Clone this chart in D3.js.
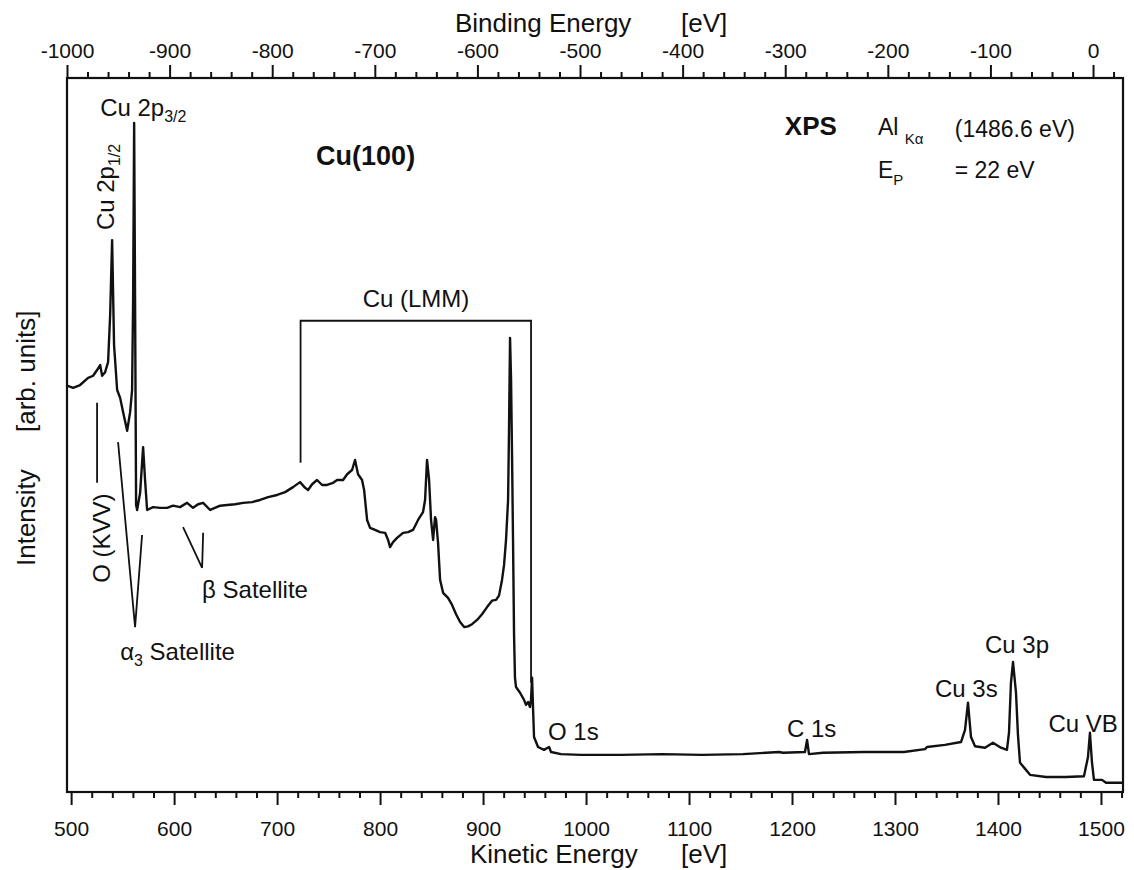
<!DOCTYPE html>
<html>
<head>
<meta charset="utf-8">
<script src="https://cdn.jsdelivr.net/npm/d3@7"></script>
<style>
  body { margin: 0; background: #fff; }
  text { font-family: "Liberation Sans", Arial, Helvetica, sans-serif; fill: #111; }
</style>
</head>
<body>
<div class="chart"></div>
<script>
// XPS survey spectrum, Cu(100)
var kineticEnergy = [
  496.1, 501.9, 508.7, 516.5, 521.4, 525.2, 528.2, 530.1, 533.0, 535.9,
  537.9, 539.8, 541.7, 544.7, 547.6, 550.5, 554.4, 557.3, 559.2, 560.2,
  561.2, 562.1, 563.1, 564.1, 567.0, 569.9, 571.8, 573.8, 579.6, 586.4,
  593.2, 599.0, 605.8, 612.6, 618.4, 623.3, 628.2, 635.0, 644.7, 651.5,
  659.2, 667.0, 675.7, 683.5, 691.3, 700.0, 707.8, 715.5, 722.3, 727.2,
  730.1, 734.0, 738.8, 743.7, 748.5, 754.4, 758.3, 764.1, 768.0, 772.8,
  775.7, 778.6, 782.5, 784.5, 787.4, 790.3, 795.1, 800.0, 804.9, 807.8,
  809.7, 812.6, 816.5, 822.3, 827.2, 832.0, 836.9, 841.7, 843.7, 845.6,
  847.6, 849.5, 851.5, 853.4, 854.4, 856.3, 858.3, 861.2, 866.0, 869.9,
  873.8, 877.7, 881.6, 885.4, 889.3, 894.2, 899.0, 903.9, 908.7, 912.6,
  915.5, 918.4, 920.4, 922.3, 924.3, 925.2, 926.2, 927.2, 928.2, 929.1,
  930.1, 931.0, 932.0, 935.9, 939.8, 941.7, 943.7, 945.6, 946.6, 947.6,
  948.5, 949.5, 953.4, 959.2, 964.1, 966.0, 975.7, 995.1, 1034.0, 1073.8,
  1112.6, 1152.4, 1187.4, 1191.3, 1212.6, 1214.6, 1216.5, 1230.1, 1269.9, 1308.7,
  1329.1, 1331.1, 1348.5, 1364.1, 1368.0, 1370.9, 1373.8, 1377.7, 1387.4, 1395.1,
  1402.9, 1408.7, 1410.7, 1412.6, 1414.6, 1417.5, 1419.4, 1421.4, 1427.2, 1431.1,
  1446.6, 1466.0, 1483.5, 1487.4, 1489.3, 1491.3, 1493.2, 1501.0, 1504.9, 1517.5,
  1521.4
];
var intensity = [
  56.9, 56.6, 57.0, 58.0, 58.3, 59.1, 59.8, 58.3, 58.8, 60.2,
  66.8, 77.3, 62.6, 56.3, 55.2, 53.2, 50.6, 53.2, 56.3, 68.9,
  93.7, 68.9, 40.2, 39.5, 41.9, 48.3, 43.7, 39.5, 39.9, 39.8,
  39.8, 40.1, 39.9, 40.5, 39.8, 40.3, 40.5, 39.5, 40.1, 40.2,
  40.3, 40.5, 40.6, 40.9, 41.3, 41.6, 42.0, 42.7, 43.4, 42.6,
  42.3, 43.1, 43.7, 43.0, 43.0, 43.3, 43.7, 43.7, 44.5, 45.1,
  46.5, 44.5, 43.7, 42.3, 38.1, 37.0, 36.7, 36.4, 36.3, 35.3,
  34.3, 35.0, 35.6, 36.3, 36.4, 36.7, 38.1, 39.2, 40.9, 46.5,
  43.7, 38.1, 35.3, 38.5, 38.1, 34.9, 29.7, 27.9, 27.2, 26.2,
  24.9, 23.8, 23.1, 23.2, 23.5, 24.1, 24.9, 25.9, 26.8, 26.9,
  27.5, 29.7, 31.8, 35.3, 40.9, 50.7, 63.6, 57.7, 46.5, 35.3,
  22.0, 16.0, 14.7, 13.9, 12.9, 12.2, 12.6, 11.9, 13.0, 16.0,
  11.9, 7.7, 6.3, 5.9, 6.3, 5.6, 5.3, 5.2, 5.2, 5.3,
  5.2, 5.3, 5.6, 5.5, 5.6, 7.3, 5.3, 5.5, 5.6, 5.6,
  6.0, 6.3, 6.6, 7.0, 8.7, 12.5, 7.7, 6.4, 6.2, 6.9,
  6.2, 5.9, 8.3, 15.3, 18.2, 13.9, 8.0, 4.1, 3.1, 2.4,
  2.1, 2.1, 2.2, 4.9, 8.3, 4.1, 1.7, 1.7, 1.3, 1.3,
  1.3
];
var keTicks = d3.range(500, 1501, 100);
var beTicks = d3.range(-1000, 1, 100);

var width = 1134,
    height = 870;
var plotLeft = 67, plotRight = 1123, plotTop = 78, plotBottom = 792;

var svg = d3.select(".chart").append("svg")
    .attr("width", width)
    .attr("height", height);

var x = d3.scaleLinear().domain([496, 1521.4]).range([plotLeft, plotRight]);
var be = d3.scaleLinear().domain([-1000, 29.2]).range([plotLeft, plotRight]);
var y = d3.scaleLinear().domain([0, 100]).range([plotBottom, plotTop]);

// axes: major ticks with labels, minor every 20 eV
function styleAxis(g) {
    g.select(".domain").remove();
    g.selectAll("line").attr("stroke", "#111").attr("stroke-width", 2);
    g.selectAll("text").attr("font-size", 21).attr("fill", "#111")
        .attr("font-family", "Liberation Sans, Arial, sans-serif");
}
var plain = function(d) { return String(d); };

svg.append("g")
    .attr("transform", "translate(0," + plotBottom + ")")
    .call(d3.axisBottom(x).tickValues(d3.range(520, 1521, 20).filter(function(d) { return d % 100; }))
        .tickSize(6).tickFormat(""))
    .call(styleAxis);
svg.append("g")
    .attr("transform", "translate(0," + plotBottom + ")")
    .call(d3.axisBottom(x).tickValues(keTicks).tickSize(13).tickPadding(16).tickFormat(plain))
    .call(styleAxis);

svg.append("g")
    .attr("transform", "translate(0," + plotTop + ")")
    .call(d3.axisTop(be).tickValues(d3.range(-980, 21, 20).filter(function(d) { return d % 100; }))
        .tickSize(6).tickFormat(""))
    .call(styleAxis);
svg.append("g")
    .attr("transform", "translate(0," + plotTop + ")")
    .call(d3.axisTop(be).tickValues(beTicks).tickSize(13).tickPadding(7).tickFormat(plain))
    .call(styleAxis);

svg.append("rect")
    .attr("x", plotLeft).attr("y", plotTop)
    .attr("width", plotRight - plotLeft).attr("height", plotBottom - plotTop)
    .attr("fill", "none").attr("stroke", "#111").attr("stroke-width", 2.2);

// axis titles
svg.append("text").attr("x", 455).attr("y", 32).attr("font-size", 26).text("Binding Energy");
svg.append("text").attr("x", 681).attr("y", 32).attr("font-size", 26).text("[eV]");
svg.append("text").attr("x", 470).attr("y", 863).attr("font-size", 26).text("Kinetic Energy");
svg.append("text").attr("x", 681).attr("y", 863).attr("font-size", 26).text("[eV]");
svg.append("text").attr("transform", "translate(35,566) rotate(-90)").attr("font-size", 26).text("Intensity");
svg.append("text").attr("transform", "translate(35,432) rotate(-90)").attr("font-size", 26).text("[arb. units]");

// spectrum
var points = kineticEnergy.map(function(d, i) { return [d, intensity[i]]; });
var line = d3.line().x(function(d) { return x(d[0]); }).y(function(d) { return y(d[1]); });
svg.append("path")
    .datum(points)
    .attr("d", line)
    .attr("fill", "none")
    .attr("stroke", "#111")
    .attr("stroke-width", 2.4)
    .attr("stroke-linejoin", "round");

// Cu (LMM) bracket and leader lines, in data coordinates
var marks = [
    [[722.8, 46.1], [722.8, 66.0], [946.6, 66.0], [946.6, 15.3]],
    [[525.2, 54.5], [525.2, 43.3]],
    [[545.6, 49.0], [562.1, 23.1], [568.9, 36.0]],
    [[608.7, 37.1], [627.2, 31.4], [628.2, 36.3]]
];
svg.selectAll(".mark").data(marks).enter().append("path")
    .attr("class", "mark")
    .attr("d", line)
    .attr("fill", "none").attr("stroke", "#111").attr("stroke-width", 1.8);

// annotation text, anchored in data coordinates; {sub} parts become subscripts
function label(ke, iv, size, parts, opts) {
    opts = opts || {};
    var t = svg.append("text")
        .attr("font-size", size)
        .attr("text-anchor", opts.anchor || "start")
        .attr("font-weight", opts.bold ? "bold" : "normal");
    if (opts.rotate) t.attr("transform", "translate(" + x(ke) + "," + y(iv) + ") rotate(-90)");
    else t.attr("x", x(ke)).attr("y", y(iv));
    var shift = 0;
    parts.forEach(function(p) {
        if (typeof p === "string") {
            t.append("tspan").attr("font-size", size).attr("dy", -shift).text(p);
            shift = 0;
        } else {
            var dy = p.dy || 6;
            t.append("tspan").attr("font-size", Math.round(size * 0.66)).attr("dy", dy).text(p.sub);
            shift = dy;
        }
    });
    return t;
}

label(528.2, 94.7, 24, ["Cu 2p", {sub: "3/2"}]);
label(541.7, 78.7, 24, ["Cu 2p", {sub: "1/2"}], {rotate: true});
label(737.9, 87.8, 27, ["Cu(100)"], {bold: true});
label(1193.0, 92.0, 26, ["XPS"], {bold: true});
label(1283.5, 92.0, 23, ["Al ", {sub: "K\u03b1", dy: 9}]);
label(1358.0, 91.8, 23, ["(1486.6 eV)"]);
label(1283.5, 86.0, 23, ["E", {sub: "P", dy: 7}]);
label(1358.0, 86.0, 23, ["= 22 eV"]);
label(834.9, 67.9, 24, ["Cu (LMM)"], {anchor: "middle"});
label(537.8, 29.3, 24, ["O (KVV)"], {rotate: true});
label(547.6, 18.5, 24, ["\u03b1", {sub: "3", dy: 6}, " Satellite"]);
label(627.2, 27.2, 24, ["\u03b2 Satellite"]);
label(963.1, 7.3, 24, ["O 1s"]);
label(1195.1, 7.7, 24, ["C 1s"]);
label(1338.8, 13.3, 24, ["Cu 3s"]);
label(1387.4, 19.5, 24, ["Cu 3p"]);
label(1449.0, 8.4, 24, ["Cu VB"]);
</script>
</body>
</html>
